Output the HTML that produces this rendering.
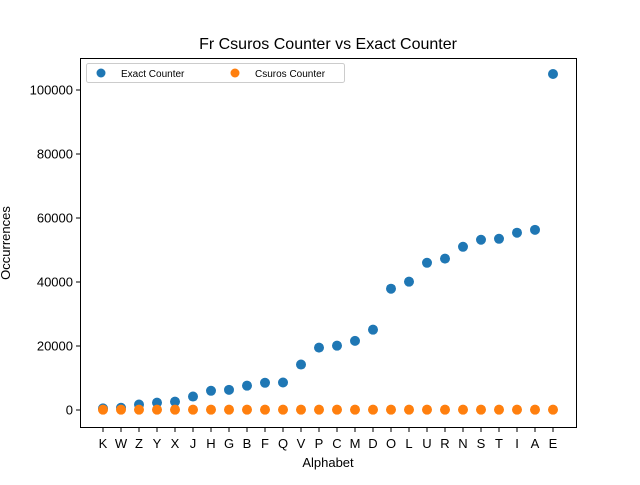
<!DOCTYPE html>
<html><head><meta charset="utf-8"><style>body{margin:0;background:#fff}svg{font-family:"Liberation Sans","DejaVu Sans",sans-serif}</style></head>
<body>
<svg id="chart" width="640" height="480">
<rect width="640" height="480" fill="#fff"/>
<text x="328" y="49" font-size="16" text-anchor="middle">Fr Csuros Counter vs Exact Counter</text>
<g id="axes"></g>
<g id="marks"></g>
<rect x="80.5" y="58.5" width="496" height="369" fill="none" stroke="#000" stroke-width="1"/>
<text x="328" y="467" font-size="13" text-anchor="middle">Alphabet</text>
<text x="10" y="243" font-size="13" text-anchor="middle" transform="rotate(-90 10 243)">Occurrences</text>
<g>
<rect x="86.5" y="63.5" width="258" height="19" rx="2" fill="#fff" stroke="#ccc"/>
<g><circle cx="101" cy="73" r="4.5" fill="#1f77b4"/><text x="121" y="77" font-size="10">Exact Counter</text></g>
<g><circle cx="235" cy="73" r="4.5" fill="#ff7f0e"/><text x="255" y="77" font-size="10">Csuros Counter</text></g>
</g>
</svg>
<script>
const categories=["K","W","Z","Y","X","J","H","G","B","F","Q","V","P","C","M","D","O","L","U","R","N","S","T","I","A","E"];
const exactValues=[500,700,1700,2300,2600,4200,6000,6300,7600,8500,8600,14200,19500,20100,21600,25100,37900,40100,46000,47300,51000,53200,53500,55400,56300,105000];
const csurosValues=[100,100,100,100,100,100,100,100,100,100,100,100,100,100,100,100,100,100,100,100,100,100,100,100,100,100];
const yTicks=[0,20000,40000,60000,80000,100000];
const NS="http://www.w3.org/2000/svg";
function xScale(i){return 103+i*(553-103)/(categories.length-1);}
function yScale(v){return 410-v*320/100000;}
const axes=document.getElementById('axes'),marks=document.getElementById('marks');
function mk(tag,attrs,parent){const e=document.createElementNS(NS,tag);for(const k in attrs)e.setAttribute(k,attrs[k]);parent.appendChild(e);return e;}
yTicks.forEach(t=>{const y=yScale(t);
const l=mk('line',{x1:76,x2:80.5,y1:y,y2:y,stroke:'#000'},axes);


const tx=mk('text',{x:73,y:y+4.5,'font-size':13,'text-anchor':'end'},axes);tx.textContent=t;

});
categories.forEach((c,i)=>{const x=xScale(i);
const l=mk('line',{x1:x,x2:x,y1:427.5,y2:432,stroke:'#000'},axes);


const tx=mk('text',{x:x,y:448,'font-size':13,'text-anchor':'middle'},axes);tx.textContent=c;

});
exactValues.forEach((v,i)=>{const p=mk('circle',{cx:xScale(i),cy:yScale(v),r:5,fill:'#1f77b4'},marks);

});
csurosValues.forEach((v,i)=>{const p=mk('circle',{cx:xScale(i),cy:yScale(v),r:5,fill:'#ff7f0e'},marks);

});
</script>
</body></html>
